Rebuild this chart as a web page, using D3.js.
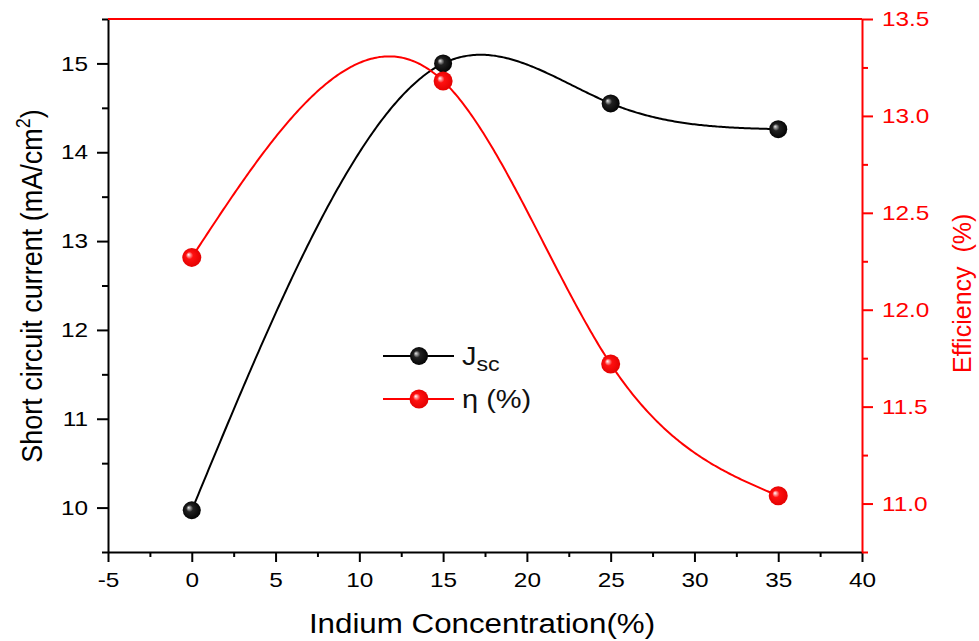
<!DOCTYPE html>
<html>
<head>
<meta charset="utf-8">
<script src="https://cdn.jsdelivr.net/npm/d3@7"></script>
<style>
  body { margin: 0; background: #fff; }
  svg text { font-family: "Liberation Sans", Arial, sans-serif; }
</style>
</head>
<body>
<div id="chart"></div>
<script>

// DATA
const conc = [0, 15, 25, 35];
const jsc = [9.97, 15.0, 14.55, 14.26];
const eta = [12.27, 13.18, 11.72, 11.04];

const xTicks = [-5, 0, 5, 10, 15, 20, 25, 30, 35, 40];
const xMinor = [-2.5, 2.5, 7.5, 12.5, 17.5, 22.5, 27.5, 32.5, 37.5];
const leftTicks = [10, 11, 12, 13, 14, 15];
const leftMinor = [9.5, 10.5, 11.5, 12.5, 13.5, 14.5, 15.5];
const rightTicks = [11.0, 11.5, 12.0, 12.5, 13.0, 13.5];
const rightMinor = [10.75, 11.25, 11.75, 12.25, 12.75, 13.25];

const margin = ({top: 19, right: 117, bottom: 89, left: 108});
var width = 979, height = 641;
const RED = '#ff0000';
const SX = 1.16;   // the picture is a little wide, stretch the glyphs

var svg = d3.select('#chart').append('svg')
  .attr('width', width)
  .attr('height', height);

var x = d3.scaleLinear().domain([-5, 40]).range([margin.left, width - margin.right]);
var yL = d3.scaleLinear().domain([9.5, 15.5]).range([height - margin.bottom, margin.top]);
var yR = d3.scaleLinear().domain([10.75, 13.5]).range([height - margin.bottom, margin.top]);

const intFmt = d => String(d);              // plain hyphen for -5
const oneDec = d => d.toFixed(1);

// gradients for the shiny balls
var defs = svg.append('defs');
function ball(id, light, mid, dark) {
  var g = defs.append('radialGradient').attr('id', id)
    .attr('cx', '50%').attr('cy', '50%').attr('r', '55%')
    .attr('fx', '32%').attr('fy', '35%');
  g.append('stop').attr('offset', '0%').attr('stop-color', light);
  g.append('stop').attr('offset', '35%').attr('stop-color', mid);
  g.append('stop').attr('offset', '100%').attr('stop-color', dark);
}
ball('ballBlack', '#e8e8e8', '#222', '#000');
ball('ballRed', '#ffffff', '#ff1010', '#e00000');

function stretch(sel, k) {
  sel.each(function() {
    var t = d3.select(this);
    var x0 = +t.attr('x') || 0;
    t.attr('transform', 'translate(' + x0 + ',0) scale(' + k + ',1) translate(' + (-x0) + ',0)');
  });
}

// natural cubic spline through the points, as a function of x
function naturalSpline(xs, ys) {
  var n = xs.length, h = [], M = new Array(n).fill(0);
  for (var i = 0; i < n - 1; i++) h.push(xs[i + 1] - xs[i]);
  // tridiagonal system for the inner second derivatives
  var a = [], b = [], c = [], r = [];
  for (var i = 1; i < n - 1; i++) {
    a.push(h[i - 1]); b.push(2 * (h[i - 1] + h[i])); c.push(h[i]);
    r.push(6 * ((ys[i + 1] - ys[i]) / h[i] - (ys[i] - ys[i - 1]) / h[i - 1]));
  }
  var m = b.length;
  for (var i = 1; i < m; i++) {
    var w = a[i] / b[i - 1];
    b[i] -= w * c[i - 1];
    r[i] -= w * r[i - 1];
  }
  var sol = new Array(m);
  sol[m - 1] = r[m - 1] / b[m - 1];
  for (var i = m - 2; i >= 0; i--) sol[i] = (r[i] - c[i] * sol[i + 1]) / b[i];
  for (var i = 0; i < m; i++) M[i + 1] = sol[i];
  return function(t) {
    var k = 0;
    while (k < n - 2 && t > xs[k + 1]) k++;
    var hk = h[k], A = xs[k + 1] - t, B = t - xs[k];
    return M[k] * A * A * A / (6 * hk) + M[k + 1] * B * B * B / (6 * hk)
      + (ys[k] / hk - M[k] * hk / 6) * A + (ys[k + 1] / hk - M[k + 1] * hk / 6) * B;
  };
}

// AXES
svg.append('g')
  .attr('transform', 'translate(0,' + (height - margin.bottom) + ')')
  .call(d3.axisBottom(x).tickValues(xTicks).tickFormat(intFmt)
    .tickSize(10).tickPadding(10).tickSizeOuter(0));
svg.append('g')
  .attr('transform', 'translate(0,' + (height - margin.bottom) + ')')
  .call(d3.axisBottom(x).tickValues(xMinor).tickSize(5).tickFormat(''))
  .select('.domain').remove();

svg.append('g')
  .attr('transform', 'translate(' + margin.left + ',0)')
  .call(d3.axisLeft(yL).tickValues(leftTicks).tickFormat(intFmt)
    .tickSize(11).tickPadding(9).tickSizeOuter(0));
svg.append('g')
  .attr('transform', 'translate(' + margin.left + ',0)')
  .call(d3.axisLeft(yL).tickValues(leftMinor).tickSize(6).tickFormat(''))
  .select('.domain').remove();

var gr = svg.append('g')
  .attr('transform', 'translate(' + (width - margin.right) + ',0)')
  .call(d3.axisRight(yR).tickValues(rightTicks).tickFormat(oneDec)
    .tickSize(11).tickPadding(9).tickSizeOuter(0));
svg.append('g')
  .attr('class', 'minorR')
  .attr('transform', 'translate(' + (width - margin.right) + ',0)')
  .call(d3.axisRight(yR).tickValues(rightMinor).tickSize(6).tickFormat(''))
  .select('.domain').remove();

svg.selectAll('.domain, .tick line').attr('stroke-width', 2);
gr.selectAll('.domain, .tick line').attr('stroke', RED);
svg.selectAll('.minorR .tick line').attr('stroke', RED);
gr.selectAll('.tick text').attr('fill', RED);

svg.selectAll('.tick text')
  .attr('font-size', 21)
  .attr('font-family', '"Liberation Sans", Arial, sans-serif')
  .call(stretch, SX);

// top frame, red
svg.append('line')
  .attr('x1', x(-5)).attr('x2', x(40))
  .attr('y1', yR(13.5)).attr('y2', yR(13.5))
  .attr('stroke', RED).attr('stroke-width', 2);

// TITLES
var xt = svg.append('text')
  .attr('x', (margin.left + width - margin.right) / 2 - 3)
  .attr('y', 633)
  .attr('text-anchor', 'middle')
  .attr('font-size', 27)
  .text('Indium Concentration(%)');
stretch(xt, SX);

var ytl = svg.append('text')
  .attr('transform', 'translate(42,' + 286 + ') scale(1.12,1) rotate(-90)')
  .attr('text-anchor', 'middle')
  .attr('font-size', 27);
ytl.append('tspan').text('Short circuit current (mA/cm');
ytl.append('tspan').attr('font-size', 18).attr('dy', -11).text('2');
ytl.append('tspan').attr('dy', 11).text(')');

var ytr = svg.append('text')
  .attr('transform', 'translate(971,373) rotate(-90)')
  .attr('font-size', 25)
  .attr('fill', RED);
ytr.append('tspan').text('Efficiency');
ytr.append('tspan').attr('dx', 14).text('(%)');

// SERIES
var series = [
  {name: 'jsc', vals: jsc, y: yL, color: '#000', fill: 'url(#ballBlack)', r: 9},
  {name: 'eta', vals: eta, y: yR, color: RED, fill: 'url(#ballRed)', r: 9.5}
];

var line = d3.line();
series.forEach(s => {
  var f = naturalSpline(conc, s.vals);
  var pts = d3.range(conc[0], conc[conc.length - 1] + 0.001, 0.1)
    .map(t => [x(t), s.y(f(t))]);
  svg.append('path')
    .attr('d', line(pts))
    .attr('fill', 'none')
    .attr('stroke', s.color)
    .attr('stroke-width', 2);
  svg.append('g').selectAll('circle')
    .data(conc.map((c, i) => [c, s.vals[i]]))
    .enter().append('circle')
      .attr('cx', d => x(d[0]))
      .attr('cy', d => s.y(d[1]))
      .attr('r', s.r)
      .attr('fill', s.fill);
});

// LEGEND
var legendRows = [
  {label: 'J', sub: 'sc', color: '#000', fill: 'url(#ballBlack)', r: 9, y: 356},
  {label: '\u03b7 (%)', sub: null, color: RED, fill: 'url(#ballRed)', r: 9.5, y: 399}
];
var legend = svg.append('g').attr('class', 'legend');
legendRows.forEach(d => {
  var g = legend.append('g').attr('transform', 'translate(0,' + d.y + ')');
  g.append('line').attr('x1', 383).attr('x2', 454)
    .attr('stroke', d.color).attr('stroke-width', 2);
  g.append('circle').attr('cx', 419).attr('r', d.r).attr('fill', d.fill);
  var t = g.append('text').attr('x', 462).attr('y', 9).attr('font-size', 25).attr('fill', '#111');
  t.append('tspan').text(d.label);
  if (d.sub) t.append('tspan').attr('font-size', 20).attr('dy', 6).text(d.sub);
  stretch(t, SX);
});

</script>
</body>
</html>
